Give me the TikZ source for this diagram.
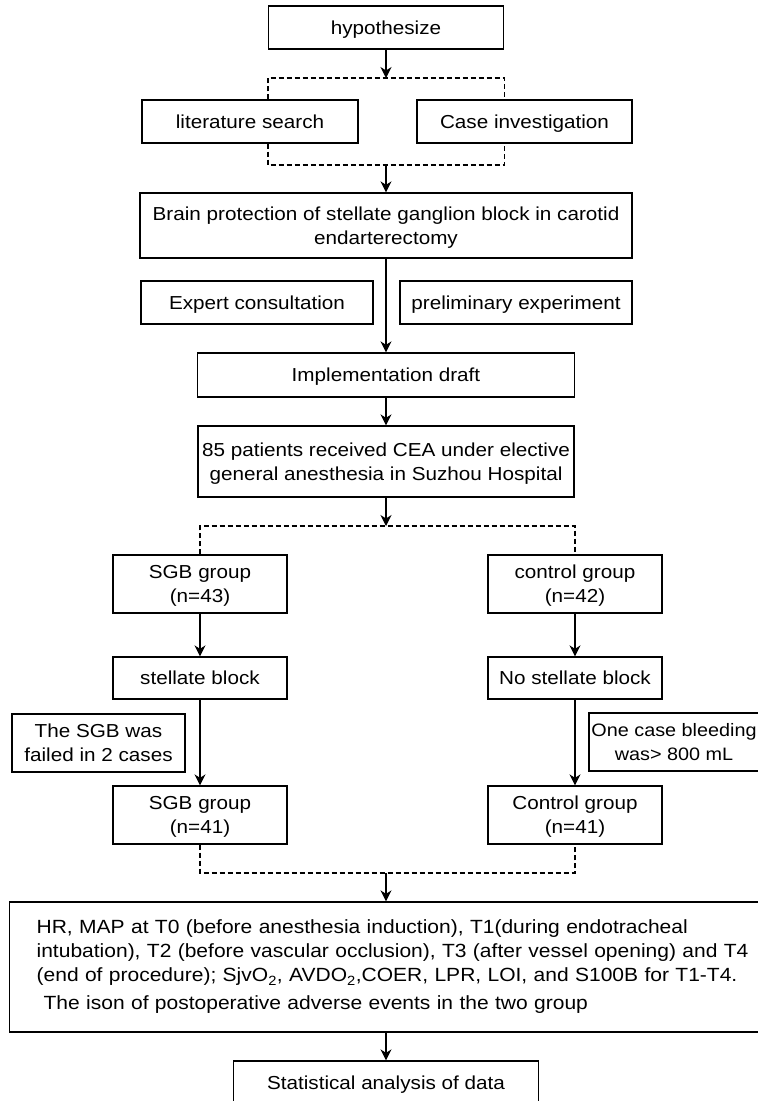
\documentclass[tikz,border=0pt]{standalone}
\usepackage{fontspec}
\setmainfont{Liberation Sans}[FakeStretch=1.1]
\usetikzlibrary{arrows.meta}
\tikzset{
  box/.style={draw, line width=1.3pt, inner sep=0pt, text depth=0pt, align=center, font=\fontsize{18.8}{24}\selectfont},
  arrow/.style={line width=1.3pt, -{Stealth[length=11pt,width=11pt,inset=3.5pt]}},
  dashline/.style={line width=1.3pt, dash pattern=on 5pt off 3pt},
}
\begin{document}
\begin{tikzpicture}[x=1pt,y=-1pt]
\useasboundingbox (0,0) rectangle (758,1101);
\clip (0,0) rectangle (758,1101);
\node[box, minimum width=235pt, minimum height=43pt] (hyp) at (386,27.5) {hypothesize};
\node[box, minimum width=216pt, minimum height=43pt] (litsearch) at (250,121.5) {literature search};
\node[box, minimum width=215pt, minimum height=43pt] (caseinv) at (524.5,121.5) {Case investigation};
\node[box, minimum width=492pt, minimum height=65pt] (brain) at (386,225.5) {Brain protection of stellate ganglion block in carotid\\endarterectomy};
\node[box, minimum width=232pt, minimum height=43pt] (expert) at (257,302.5) {Expert consultation};
\node[box, minimum width=232pt, minimum height=43pt] (prelim) at (516,302.5) {preliminary experiment};
\node[box, minimum width=377pt, minimum height=44pt] (draft) at (386,375) {Implementation draft};
\node[box, minimum width=376pt, minimum height=71pt] (patients) at (386,461.5) {85 patients received CEA under elective\\general anesthesia in Suzhou Hospital};
\node[box, minimum width=174pt, minimum height=58pt] (sgbA) at (200,584) {SGB group\\(n=43)};
\node[box, minimum width=174pt, minimum height=58pt] (ctlA) at (575,584) {control group\\(n=42)};
\node[box, minimum width=174pt, minimum height=42pt] (blockA) at (200,678) {stellate block};
\node[box, minimum width=174pt, minimum height=42pt] (noblock) at (575,678) {No stellate block};
\node[box, minimum width=173pt, minimum height=58pt] (failed) at (98.5,743) {The SGB was\\failed in 2 cases};
\node[box, minimum width=170pt, minimum height=58pt, font=\fontsize{18}{24}\selectfont] (bleeding) at (674,742) {One case bleeding\\was> 800 mL};
\node[box, minimum width=174pt, minimum height=58pt] (sgbB) at (200,815) {SGB group\\(n=41)};
\node[box, minimum width=174pt, minimum height=58pt] (ctlB) at (575,815) {Control group\\(n=41)};
\node[box, text depth={}, anchor=west, align=left, inner xsep=27pt, text width=712pt, minimum height=130pt, font=\fontsize{19.1}{24}\selectfont] (measures) at (9,967) {HR, MAP at T0 (before anesthesia induction), T1(during endotracheal\\
intubation), T2 (before vascular occlusion), T3 (after vessel opening) and T4\\
(end of procedure); SjvO\textsubscript{2}, AVDO\textsubscript{2},COER, LPR, LOI, and S100B for T1-T4.\\[4pt]
\hspace*{7pt}The ison of postoperative adverse events in the two group};
\node[box, minimum width=305pt, minimum height=43pt] (stats) at (386,1082.5) {Statistical analysis of data};
\coordinate (topjoin) at (386,78);
\coordinate (botjoin) at (386,165);
\coordinate (midjoin) at (386,526);
\coordinate (lowjoin) at (386,873);
\draw[arrow] (hyp) -- (topjoin);
\draw[dashline] (litsearch.north -| hyp.west) |- (topjoin) -| (caseinv.north -| hyp.east);
\draw[dashline] (litsearch.south -| hyp.west) |- (botjoin) -| (caseinv.south -| hyp.east);
\draw[arrow] (botjoin) -- (brain);
\draw[arrow] (brain) -- (draft);
\draw[arrow] (draft) -- (patients);
\draw[arrow] (patients) -- (midjoin);
\draw[dashline] (sgbA) -- (sgbA |- midjoin) -- (ctlA |- midjoin) -- (ctlA);
\draw[arrow] (sgbA) -- (blockA);
\draw[arrow] (ctlA) -- (noblock);
\draw[arrow] (blockA) -- (sgbB);
\draw[arrow] (noblock) -- (ctlB);
\draw[dashline] (sgbB) -- (sgbB |- lowjoin) -- (ctlB |- lowjoin) -- (ctlB);
\draw[arrow] (lowjoin) -- (lowjoin |- measures.north);
\draw[arrow] (measures.south -| stats) -- (stats);
\end{tikzpicture}
\end{document}
